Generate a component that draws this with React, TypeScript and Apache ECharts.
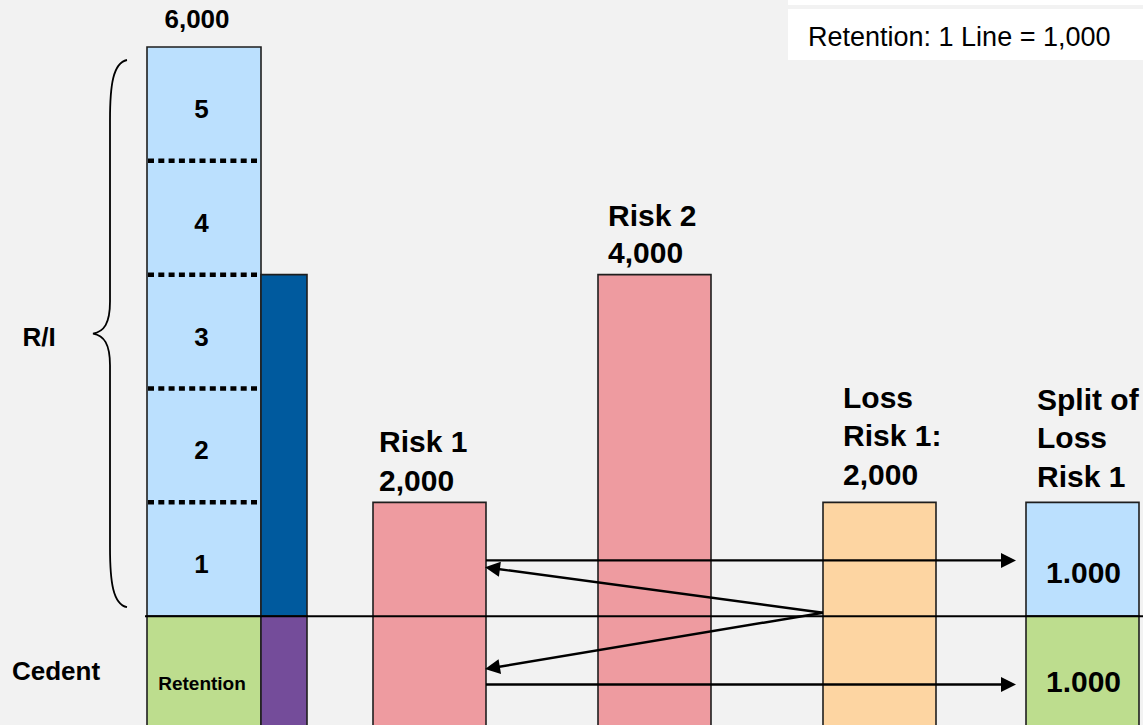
import React, { useEffect, useRef } from "react";
import * as echarts from "echarts";

// ---------- data ----------
const categories = ["Lines", "Risk 1", "Risk 2", "Loss Risk 1", "Split of Loss Risk 1"];
const lineSize = 1000; // retention: 1 line
const lineNumbers = [1, 2, 3, 4, 5];
const capacity = 6000;
const riskNames = ["Risk 1", "Risk 2"];
const riskSums = [2000, 4000];
const risk2Retained = 1000;
const risk2Ceded = 3000;
const lossName = ["Loss", "Risk 1:"];
const lossRisk1 = 2000;
const splitName = ["Split of", "Loss", "Risk 1"];
const splitValues = [1000, 1000]; // retained (bottom), ceded (top)
const splitLabels = ["1.000", "1.000"];
const arrowToSplitLevels = [1490, 400];
const arrowFromLossLevel = 1030;
const arrowToRiskLevels = [1430, 535];
const sideLabels = ["R/I", "Cedent"];
const noteText = "Retention: 1 Line = 1,000";

const FONT = '"Liberation Sans", Arial, Helvetica, sans-serif';
const fmt = (v: number) => v.toLocaleString("en-US");

type Seg = { cat: number; from: number; to: number; kind: string };
const segments: Seg[] = [
  { cat: 0, from: 0, to: lineSize, kind: "mainRet" },
  { cat: 0, from: lineSize, to: capacity, kind: "mainLines" },
  { cat: 0, from: 0, to: risk2Retained, kind: "cedeRet" },
  { cat: 0, from: risk2Retained, to: risk2Retained + risk2Ceded, kind: "cede" },
  { cat: 1, from: 0, to: riskSums[0], kind: "risk" },
  { cat: 2, from: 0, to: riskSums[1], kind: "risk" },
  { cat: 3, from: 0, to: lossRisk1, kind: "loss" },
  { cat: 4, from: 0, to: splitValues[0], kind: "splitRet" },
  { cat: 4, from: splitValues[0], to: splitValues[0] + splitValues[1], kind: "splitCede" },
];

// ---------- styles / layout ----------
const C = {
  bg: "#F2F2F2",
  lightBlue: "#BBE0FE",
  green: "#BDDD8E",
  darkBlue: "#005A9E",
  purple: "#744C9A",
  pink: "#EE9BA0",
  orange: "#FDD5A2",
  ink: "#000000",
  border: "#1E1E1E",
};
const B = 225; // reference band width used for fractions
const kindStyle: Record<string, { fill: string; dx: number; w: number }> = {
  mainRet: { fill: C.green, dx: -57 / B, w: 114 / B },
  mainLines: { fill: C.lightBlue, dx: -57 / B, w: 114 / B },
  cedeRet: { fill: C.purple, dx: 57 / B, w: 46 / B },
  cede: { fill: C.darkBlue, dx: 57 / B, w: 46 / B },
  risk: { fill: C.pink, dx: -56 / B, w: 113 / B },
  loss: { fill: C.orange, dx: -56 / B, w: 113 / B },
  splitRet: { fill: C.green, dx: -78 / B, w: 113 / B },
  splitCede: { fill: C.lightBlue, dx: -78 / B, w: 113 / B },
};

const titles = [
  { cat: 0, lines: [fmt(capacity)], value: capacity, align: "center", dx: -7 / B, last: -28, lh: 38, size: 26 },
  { cat: 1, lines: [riskNames[0], fmt(riskSums[0])], value: riskSums[0], align: "left", dx: -50 / B, last: -22, lh: 39, size: 30 },
  { cat: 2, lines: [riskNames[1], fmt(riskSums[1])], value: riskSums[1], align: "left", dx: -46 / B, last: -22, lh: 37, size: 30 },
  { cat: 3, lines: [...lossName, fmt(lossRisk1)], value: lossRisk1, align: "left", dx: -36 / B, last: -28, lh: 38.5, size: 30 },
  { cat: 4, lines: splitName, value: splitValues[0] + splitValues[1], align: "left", dx: -67 / B, last: -26, lh: 38.5, size: 30 },
];

function textEl(x: number, y: number, text: string, size: number, bold: boolean, align = "center", lh?: number) {
  return {
    type: "text",
    x,
    y,
    style: {
      text,
      fontSize: size,
      fontWeight: bold ? "bold" : "normal",
      fontFamily: FONT,
      fill: C.ink,
      align,
      verticalAlign: "middle",
      lineHeight: lh || size * 1.2,
    },
  };
}

function arrowEl(x1: number, y1: number, x2: number, y2: number) {
  const dx = x2 - x1;
  const dy = y2 - y1;
  const len = Math.sqrt(dx * dx + dy * dy);
  const ux = dx / len;
  const uy = dy / len;
  const hl = 15;
  const hw = 7.5;
  const bx = x2 - ux * hl;
  const by = y2 - uy * hl;
  return {
    type: "group",
    children: [
      { type: "line", shape: { x1, y1, x2: bx + ux * 2, y2: by + uy * 2 }, style: { stroke: C.ink, lineWidth: 2.4 } },
      {
        type: "polygon",
        shape: { points: [[x2, y2], [bx - uy * hw, by + ux * hw], [bx + uy * hw, by - ux * hw]] },
        style: { fill: C.ink },
      },
    ],
  };
}

export default function App() {
  const ref = useRef<HTMLDivElement>(null);
  useEffect(() => {
    if (!ref.current) return;
    document.body.style.margin = "0";
    document.body.style.background = C.bg;
    const chart = echarts.init(ref.current, undefined, { renderer: "svg" });

    const option: any = {
      animation: false,
      backgroundColor: C.bg,
      grid: { left: 91.5, right: -73.5, top: 47, bottom: -5, containLabel: false, outerBoundsMode: "none" },
      xAxis: { type: "category", data: categories, show: false, boundaryGap: true },
      yAxis: { type: "value", min: 0, max: capacity, show: false, splitLine: { show: false } },
      tooltip: { show: false },
      graphic: [
        { type: "rect", left: 788, top: 0, shape: { width: 355, height: 5 }, style: { fill: "#FFFFFF" }, silent: true },
        { type: "rect", left: 788, top: 9, shape: { width: 355, height: 51 }, style: { fill: "#FFFFFF" }, silent: true },
        {
          type: "text",
          left: 808,
          top: 23,
          style: { text: noteText, fontSize: 27, fontFamily: FONT, fill: C.ink },
          silent: true,
        },
      ],
      series: [
        // bars
        {
          type: "custom",
          z: 2,
          silent: true,
          data: segments.map((s) => [s.cat, s.from, s.to]),
          encode: { x: 0, y: [1, 2] },
          renderItem: (params: any, api: any) => {
            const s = segments[params.dataIndex];
            const st = kindStyle[s.kind];
            const [cx, yTop] = api.coord([s.cat, s.to]);
            const yBot = api.coord([s.cat, s.from])[1];
            const band = api.size([1, 0])[0];
            return {
              type: "rect",
              shape: { x: cx + band * st.dx, y: yTop, width: band * st.w, height: yBot - yTop },
              style: { fill: st.fill, stroke: C.border, lineWidth: 1.6 },
            };
          },
        },
        // dotted line dividers + line numbers + retention label
        {
          type: "custom",
          z: 3,
          silent: true,
          data: lineNumbers.map((n) => [0, lineSize * n, lineSize * (n + 0.5)]),
          encode: { x: 0, y: 1 },
          renderItem: (params: any, api: any) => {
            const n = lineNumbers[params.dataIndex];
            const band = api.size([1, 0])[0];
            const [cx, yDiv] = api.coord([0, lineSize * n]);
            const yMid = api.coord([0, lineSize * (n + 0.5)])[1];
            const x0 = cx + band * kindStyle.mainLines.dx;
            const x1 = x0 + band * kindStyle.mainLines.w;
            const children: any[] = [textEl(cx - 2.5, yMid + 5, String(n), 26, true)];
            if (n > 1) {
              children.push({
                type: "line",
                shape: { x1: x0 + 1, y1: yDiv, x2: x1 - 1, y2: yDiv },
                style: { stroke: C.ink, lineWidth: 4.5, lineDash: [6, 4.3] },
              });
            }
            if (n === 1) {
              const yRet = api.coord([0, lineSize / 2])[1];
              children.push(textEl(cx - 2, yRet + 10, "Retention", 19, true));
            }
            return { type: "group", children };
          },
        },
        // split value labels (index 0 = retained/bottom, 1 = ceded/top)
        {
          type: "custom",
          z: 3,
          silent: true,
          data: splitLabels.map((l, i) => [4, splitValues[0] * i + splitValues[i] / 2]),
          encode: { x: 0, y: 1 },
          renderItem: (params: any, api: any) => {
            const i = params.dataIndex;
            const band = api.size([1, 0])[0];
            const [cx, y] = api.coord([4, api.value(1)]);
            const xc = cx + band * kindStyle.splitRet.dx + (band * kindStyle.splitRet.w) / 2;
            return textEl(xc + 1, y + (i === 0 ? 8 : 13), splitLabels[i], 30, true);
          },
        },
        // titles above bars
        {
          type: "custom",
          z: 3,
          silent: true,
          data: titles.map((t) => [t.cat, t.value]),
          encode: { x: 0, y: 1 },
          renderItem: (params: any, api: any) => {
            const t = titles[params.dataIndex];
            const band = api.size([1, 0])[0];
            const [cx, yTop] = api.coord([t.cat, t.value]);
            const n = t.lines.length;
            const yc = yTop + t.last - ((n - 1) * t.lh) / 2;
            return textEl(cx + band * t.dx, yc, t.lines.join("\n"), t.size, true, t.align, t.lh);
          },
        },
        // retention line across
        {
          type: "custom",
          z: 4,
          silent: true,
          data: [[0, lineSize]],
          encode: { x: 0, y: 1 },
          renderItem: (params: any, api: any) => {
            const band = api.size([1, 0])[0];
            const [cx, y] = api.coord([0, lineSize]);
            const x0 = cx + band * kindStyle.mainRet.dx - 2;
            const xEnd = api.coord([categories.length - 1, lineSize])[0] + band / 2;
            return { type: "line", shape: { x1: x0, y1: y, x2: xEnd, y2: y }, style: { stroke: C.ink, lineWidth: 2 } };
          },
        },
        // arrows
        {
          type: "custom",
          z: 5,
          silent: true,
          data: [...arrowToSplitLevels.map((v) => [1, v]), ...arrowToRiskLevels.map((v) => [3, v])],
          encode: { x: 0, y: 1 },
          renderItem: (params: any, api: any) => {
            const i = params.dataIndex;
            const band = api.size([1, 0])[0];
            const riskRight = api.coord([1, 0])[0] + band * (kindStyle.risk.dx + kindStyle.risk.w);
            if (i < arrowToSplitLevels.length) {
              const y = api.coord([1, arrowToSplitLevels[i]])[1];
              const splitLeft = api.coord([4, 0])[0] + band * kindStyle.splitRet.dx;
              return arrowEl(riskRight, y, splitLeft - 10, y);
            }
            const j = i - arrowToSplitLevels.length;
            const lossLeft = api.coord([3, 0])[0] + band * kindStyle.loss.dx;
            const ys = api.coord([3, arrowFromLossLevel])[1];
            const ye = api.coord([1, arrowToRiskLevels[j]])[1];
            return arrowEl(lossLeft, ys, riskRight - 1, ye);
          },
        },
        // brace and side labels
        {
          type: "custom",
          z: 5,
          silent: true,
          data: [[0, lineSize, capacity]],
          encode: { x: 0, y: [1, 2] },
          renderItem: (params: any, api: any) => {
            const band = api.size([1, 0])[0];
            const [cx, yCap] = api.coord([0, capacity]);
            const yLine = api.coord([0, lineSize])[1];
            const yRet = api.coord([0, lineSize / 2])[1];
            const left = cx + band * kindStyle.mainLines.dx;
            const xe = left - 20;
            const xv = left - 37;
            const xt = left - 54;
            const top = yCap + 13;
            const bot = yLine - 9;
            const mid = (top + bot) / 2;
            const d =
              `M${xe},${top} C${xv + 3},${top + 3} ${xv},${top + 25} ${xv},${top + 60} ` +
              `L${xv},${mid - 32} C${xv},${mid - 10} ${xv - 6},${mid - 2} ${xt},${mid} ` +
              `C${xv - 6},${mid + 2} ${xv},${mid + 10} ${xv},${mid + 32} ` +
              `L${xv},${bot - 60} C${xv},${bot - 25} ${xv + 3},${bot - 3} ${xe},${bot}`;
            return {
              type: "group",
              children: [
                { type: "path", shape: { pathData: d }, style: { fill: "none", stroke: C.ink, lineWidth: 1.8 } },
                textEl(39, mid + 3, sideLabels[0], 26, true),
                textEl(56, yRet - 2, sideLabels[1], 26, true),
              ],
            };
          },
        },
      ],
    };
    chart.setOption(option);
    return () => chart.dispose();
  }, []);

  return <div ref={ref} style={{ width: 1143, height: 725, background: C.bg }} />;
}
